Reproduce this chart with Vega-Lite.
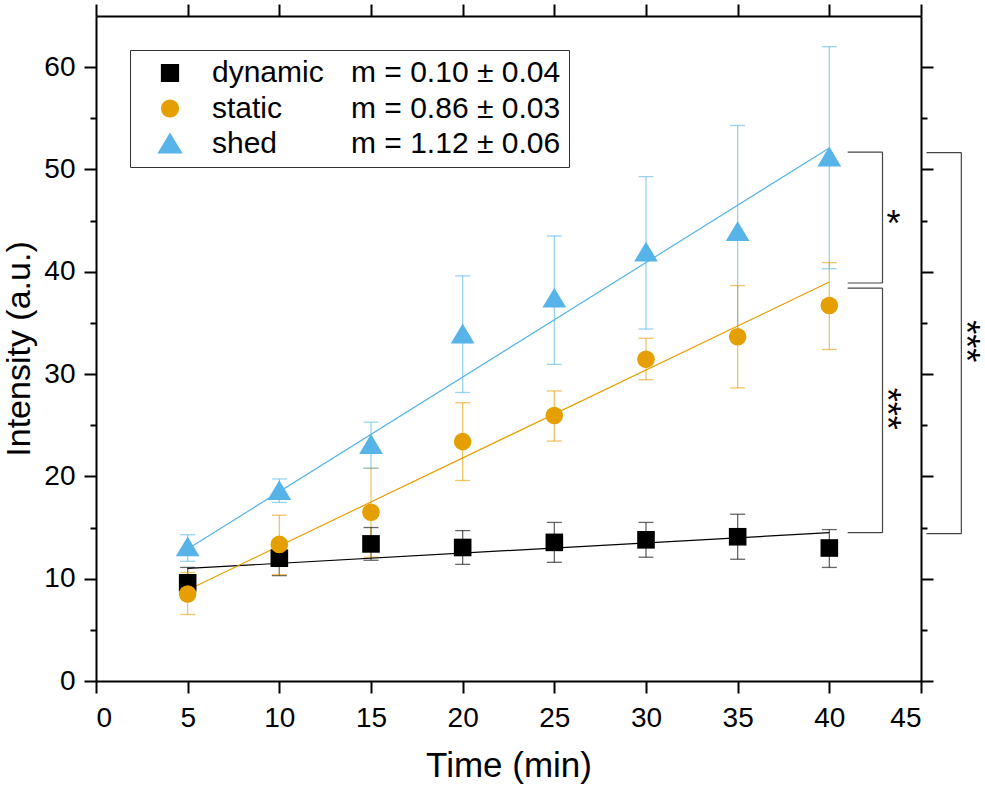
{
  "$schema": "https://vega.github.io/schema/vega-lite/v6.json",
  "width": 825,
  "height": 665,
  "autosize": {"type": "none"},
  "padding": {"left": 96, "top": 16, "right": 64, "bottom": 104},
  "background": "white",
  "config": {
    "view": {"stroke": null},
    "font": "Liberation Sans",
    "axis": {"grid": false, "domainColor": "black", "domainWidth": 2, "tickColor": "black", "tickWidth": 2, "labelColor": "black", "titleColor": "black", "labelFont": "Liberation Sans", "titleFont": "Liberation Sans", "titleFontWeight": "normal"},
    "legend": {"labelFont": "Liberation Sans", "labelColor": "black"}
  },
  "datasets": {
    "pts": [
      {"series": "dynamic", "time": 5, "mean": 9.6, "lo": 8.1, "hi": 11.1},
      {"series": "dynamic", "time": 10, "mean": 12.0, "lo": 10.3, "hi": 13.7},
      {"series": "dynamic", "time": 15, "mean": 13.4, "lo": 11.8, "hi": 15.0},
      {"series": "dynamic", "time": 20, "mean": 13.05, "lo": 11.4, "hi": 14.7},
      {"series": "dynamic", "time": 25, "mean": 13.55, "lo": 11.6, "hi": 15.5},
      {"series": "dynamic", "time": 30, "mean": 13.8, "lo": 12.1, "hi": 15.5},
      {"series": "dynamic", "time": 35, "mean": 14.1, "lo": 11.9, "hi": 16.3},
      {"series": "dynamic", "time": 40, "mean": 13.0, "lo": 11.1, "hi": 14.8},
      {"series": "static", "time": 5, "mean": 8.5, "lo": 6.5, "hi": 10.6},
      {"series": "static", "time": 10, "mean": 13.35, "lo": 10.4, "hi": 16.2},
      {"series": "static", "time": 15, "mean": 16.5, "lo": 12.1, "hi": 20.8},
      {"series": "static", "time": 20, "mean": 23.4, "lo": 19.6, "hi": 27.2},
      {"series": "static", "time": 25, "mean": 25.95, "lo": 23.45, "hi": 28.35},
      {"series": "static", "time": 30, "mean": 31.45, "lo": 29.45, "hi": 33.5},
      {"series": "static", "time": 35, "mean": 33.65, "lo": 28.65, "hi": 38.65},
      {"series": "static", "time": 40, "mean": 36.7, "lo": 32.4, "hi": 40.9},
      {"series": "shed", "time": 5, "mean": 13.1, "lo": 11.7, "hi": 14.3},
      {"series": "shed", "time": 10, "mean": 18.6, "lo": 17.45, "hi": 19.75},
      {"series": "shed", "time": 15, "mean": 23.1, "lo": 20.8, "hi": 25.3},
      {"series": "shed", "time": 20, "mean": 33.9, "lo": 28.2, "hi": 39.6},
      {"series": "shed", "time": 25, "mean": 37.4, "lo": 30.95, "hi": 43.5},
      {"series": "shed", "time": 30, "mean": 41.9, "lo": 34.4, "hi": 49.3},
      {"series": "shed", "time": 35, "mean": 43.9, "lo": 33.4, "hi": 54.3},
      {"series": "shed", "time": 40, "mean": 51.2, "lo": 40.3, "hi": 62.0}
    ],
    "fits": [
      {"series": "dynamic", "m": "m = 0.10 ± 0.04", "time": 5, "fit": 11.0},
      {"series": "dynamic", "m": "m = 0.10 ± 0.04", "time": 40, "fit": 14.5},
      {"series": "static", "m": "m = 0.86 ± 0.03", "time": 5, "fit": 8.9},
      {"series": "static", "m": "m = 0.86 ± 0.03", "time": 40, "fit": 39.0},
      {"series": "shed", "m": "m = 1.12 ± 0.06", "time": 5, "fit": 12.9},
      {"series": "shed", "m": "m = 1.12 ± 0.06", "time": 40, "fit": 52.1}
    ],
    "brackets": [
      {"x": 41.0, "x2": 42.9, "y": 51.7, "y2": 51.7},
      {"x": 42.9, "x2": 42.9, "y": 38.9, "y2": 51.7},
      {"x": 41.0, "x2": 42.9, "y": 38.9, "y2": 38.9},
      {"x": 41.0, "x2": 42.9, "y": 38.4, "y2": 38.4},
      {"x": 42.9, "x2": 42.9, "y": 14.5, "y2": 38.4},
      {"x": 41.0, "x2": 42.9, "y": 14.5, "y2": 14.5},
      {"x": 45.3, "x2": 47.2, "y": 51.65, "y2": 51.65},
      {"x": 47.2, "x2": 47.2, "y": 14.4, "y2": 51.65},
      {"x": 45.3, "x2": 47.2, "y": 14.4, "y2": 14.4}
    ],
    "stars": [
      {"x": 43.5, "y": 44.6, "label": "*", "angle": 0},
      {"x": 43.1, "y": 26.6, "label": "***", "angle": 90},
      {"x": 47.4, "y": 33.2, "label": "***", "angle": 90}
    ]
  },
  "resolve": {"axis": {"x": "independent", "y": "independent"}},
  "layer": [
    {
      "data": {"name": "pts"},
      "mark": {"type": "rule", "strokeWidth": 1.3, "strokeOpacity": 0.6},
      "encoding": {
        "x": {"field": "time", "type": "quantitative", "scale": {"domain": [0, 45], "nice": false, "zero": false},
          "axis": {"orient": "bottom", "values": [0, 5, 10, 15, 20, 25, 30, 35, 40, 45], "tickSize": 12, "labelFontSize": 28, "labelPadding": 11, "title": "Time (min)", "titleFontSize": 35, "titlePadding": 16}},
        "y": {"field": "lo", "type": "quantitative", "scale": {"domain": [0, 65], "nice": false, "zero": false},
          "axis": {"orient": "left", "values": [0, 5, 10, 15, 20, 25, 30, 35, 40, 45, 50, 55, 60], "tickSize": {"condition": {"test": "datum.value % 10 !== 0", "value": 6}, "value": 12}, "labelExpr": "datum.value % 10 === 0 ? datum.label : ''", "labelFontSize": 28, "labelPadding": 9, "title": "Intensity (a.u.)", "titleFontSize": 34, "titlePadding": 7}},
        "y2": {"field": "hi"},
        "color": {"field": "series", "type": "nominal", "scale": {"domain": ["dynamic", "static", "shed"], "range": ["#000000", "#e69f00", "#56b4e9"]}}
      }
    },
    {
      "data": {"name": "pts"},
      "mark": {"type": "tick", "orient": "horizontal", "size": 15, "thickness": 1.3, "fillOpacity": 0.6, "strokeOpacity": 0.6},
      "encoding": {
        "x": {"field": "time", "type": "quantitative", "axis": null},
        "y": {"field": "hi", "type": "quantitative", "axis": null},
        "color": {"field": "series", "type": "nominal"}
      }
    },
    {
      "data": {"name": "pts"},
      "mark": {"type": "tick", "orient": "horizontal", "size": 15, "thickness": 1.3, "fillOpacity": 0.6, "strokeOpacity": 0.6},
      "encoding": {
        "x": {"field": "time", "type": "quantitative", "axis": null},
        "y": {"field": "lo", "type": "quantitative", "axis": null},
        "color": {"field": "series", "type": "nominal"}
      }
    },
    {
      "data": {"name": "fits"},
      "mark": {"type": "line", "strokeWidth": 1.2},
      "encoding": {
        "x": {"field": "time", "type": "quantitative", "axis": null},
        "y": {"field": "fit", "type": "quantitative", "axis": null},
        "color": {"field": "series", "type": "nominal"},
        "opacity": {"field": "m", "type": "ordinal", "scale": {"range": [1, 1, 1]},
          "legend": {"orient": "none", "legendX": 34, "legendY": 34, "title": null, "padding": 8, "strokeColor": "#333333", "symbolType": "square", "symbolSize": 300, "symbolOpacity": 0, "symbolStrokeWidth": 0, "labelOffset": 183, "labelFontSize": 30, "rowPadding": 5.5, "labelLimit": 400}}
      }
    },
    {
      "data": {"name": "pts"},
      "mark": {"type": "point", "filled": true, "opacity": 1, "size": 310},
      "encoding": {
        "x": {"field": "time", "type": "quantitative", "axis": {"orient": "top", "values": [0, 5, 10, 15, 20, 25, 30, 35, 40, 45], "tickSize": 12, "labels": false, "title": null}},
        "y": {"field": "mean", "type": "quantitative", "axis": {"orient": "right", "values": [0, 5, 10, 15, 20, 25, 30, 35, 40, 45, 50, 55, 60], "tickSize": {"condition": {"test": "datum.value % 10 !== 0", "value": 6}, "value": 12}, "labels": false, "title": null}},
        "color": {"field": "series", "type": "nominal",
          "legend": {"orient": "none", "legendX": 59, "legendY": 42, "title": null, "padding": 0, "symbolSize": 280, "symbolOpacity": 1, "labelOffset": 27, "labelFontSize": 30, "rowPadding": 5.5}},
        "shape": {"field": "series", "type": "nominal", "scale": {"domain": ["dynamic", "static", "shed"], "range": ["square", "circle", "M0,-1.2L1.35,1.05L-1.35,1.05Z"]}}
      }
    },
    {
      "data": {"name": "brackets"},
      "mark": {"type": "rule", "strokeWidth": 1.2, "color": "#444444"},
      "encoding": {
        "x": {"field": "x", "type": "quantitative", "axis": null},
        "x2": {"field": "x2"},
        "y": {"field": "y", "type": "quantitative", "axis": null},
        "y2": {"field": "y2"}
      }
    },
    {
      "data": {"name": "stars"},
      "mark": {"type": "text", "fontSize": 36, "font": "Liberation Sans", "color": "black", "align": "center", "baseline": "middle"},
      "encoding": {
        "x": {"field": "x", "type": "quantitative", "axis": null},
        "y": {"field": "y", "type": "quantitative", "axis": null},
        "text": {"field": "label"},
        "angle": {"field": "angle", "type": "quantitative", "scale": null}
      }
    }
  ]
}
